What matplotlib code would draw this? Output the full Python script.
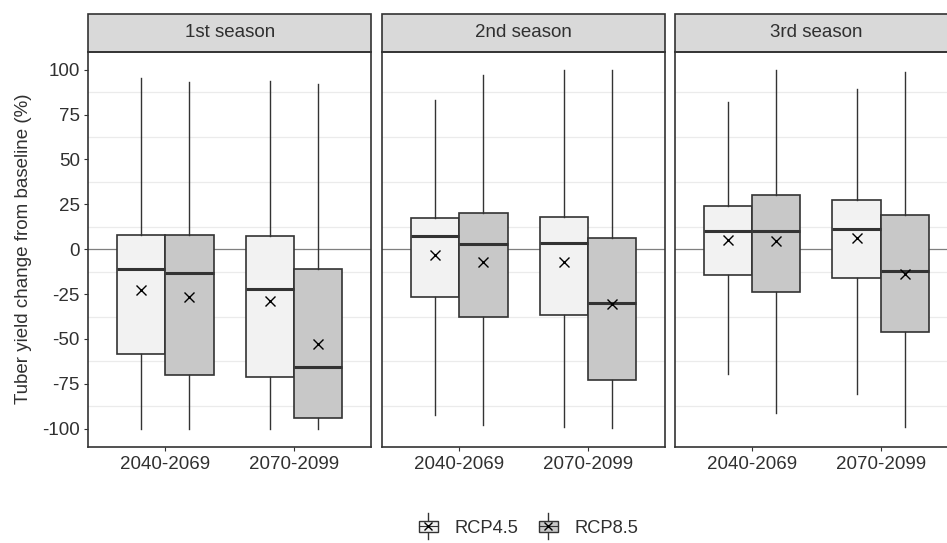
import matplotlib
matplotlib.use("Agg")
import matplotlib.pyplot as plt
from matplotlib.patches import Rectangle
from matplotlib.lines import Line2D
from matplotlib.legend_handler import HandlerBase

plt.rcParams["font.family"] = ["Liberation Sans", "DejaVu Sans"]
plt.rcParams["axes.unicode_minus"] = False

seasons = ["1st season", "2nd season", "3rd season"]
periods = ["2040-2069", "2070-2099"]
scenarios = ["RCP4.5", "RCP8.5"]

# Summary statistics, indexed [season][period][scenario]
whis_hi = [[[95.4, 93.0], [93.7, 91.9]],
           [[82.9, 97.0], [100.0, 100.0]],
           [[82.0, 100.0], [89.5, 98.7]]]
q3 = [[[8.0, 8.0], [7.4, -10.9]],
      [[17.5, 20.1], [18.2, 6.5]],
      [[24.0, 30.0], [27.3, 19.2]]]
median = [[[-11.2, -13.0], [-22.0, -65.6]],
          [[7.1, 2.8], [3.7, -29.7]],
          [[9.9, 9.9], [11.4, -12.3]]]
mean = [[[-23.0, -26.4], [-29.0, -53.0]],
        [[-3.0, -7.2], [-7.2, -30.5]],
        [[5.2, 4.8], [6.0, -13.7]]]
q1 = [[[-58.6, -70.3], [-71.2, -94.2]],
      [[-26.5, -37.5], [-36.6, -72.7]],
      [[-14.3, -23.6], [-16.0, -45.9]]]
whis_lo = [[[-100.0, -100.0], [-100.0, -100.0]],
           [[-92.4, -97.9], [-98.9, -99.8]],
           [[-69.5, -91.5], [-80.6, -98.9]]]

y_ticks = [-100, -75, -50, -25, 0, 25, 50, 75, 100]

fills = ["#f2f2f2", "#c8c8c8"]
edge = "#333333"
text_col = "#303030"

W, H = 947, 543
fig = plt.figure(figsize=(W / 100, H / 100), dpi=100)

panel_left = [88.3, 382.3, 675.0]
panel_w = 282.7
top_px, bot_px = 51.7, 446.7
strip_h = 38.0

box_w = 0.375
offsets = [-box_w / 2, box_w / 2]

for s, season in enumerate(seasons):
    ax = fig.add_axes([panel_left[s] / W, (H - bot_px) / H,
                       panel_w / W, (bot_px - top_px) / H])
    ax.set_xlim(0.4, 2.6)
    ax.set_ylim(-110, 110)

    # light minor grid between the breaks
    for g in [-87.5, -62.5, -37.5, -12.5, 12.5, 37.5, 62.5, 87.5]:
        ax.axhline(g, color="#ebebeb", lw=0.9, zorder=0)
    ax.axhline(0, color="#7f7f7f", lw=0.9, zorder=1)

    for p in range(len(periods)):
        for k in range(len(scenarios)):
            stats = [dict(med=median[s][p][k], q1=q1[s][p][k], q3=q3[s][p][k],
                          whislo=whis_lo[s][p][k], whishi=whis_hi[s][p][k],
                          mean=mean[s][p][k], fliers=[])]
            ax.bxp(stats, positions=[p + 1 + offsets[k]], widths=box_w,
                   patch_artist=True, showmeans=True, showcaps=False,
                   manage_ticks=False,
                   boxprops=dict(facecolor=fills[k], edgecolor=edge, lw=1.2),
                   whiskerprops=dict(color=edge, lw=1.0),
                   medianprops=dict(color=edge, lw=2.2, solid_capstyle="butt"),
                   meanprops=dict(marker="x", markeredgecolor="black",
                                  markersize=7, markeredgewidth=1.0))

    ax.set_xticks([1, 2])
    ax.set_xticklabels(periods)
    ax.set_yticks(y_ticks)
    ax.tick_params(axis="both", length=3, width=0.8, color=edge,
                   labelsize=13.5, labelcolor=text_col)
    ax.tick_params(axis="x", pad=4)
    ax.tick_params(axis="y", pad=3)
    if s > 0:
        ax.tick_params(axis="y", left=False, labelleft=False)
    else:
        ax.set_ylabel("Tuber yield change from baseline (%)", fontsize=13.5,
                      color=text_col)
        ax.yaxis.set_label_coords((32 - 88.3) / panel_w, 0.5)
    for sp in ax.spines.values():
        sp.set_color(edge)
        sp.set_linewidth(1.2)

    # facet strip
    sh = strip_h / (bot_px - top_px)
    strip = Rectangle((0, 1), 1, sh, transform=ax.transAxes, clip_on=False,
                      facecolor="#d9d9d9", edgecolor=edge, lw=1.2)
    ax.add_patch(strip)
    ax.text(0.5, 1 + sh / 2, season, transform=ax.transAxes, ha="center",
            va="center", fontsize=13.5, color=text_col)


class BoxKey(HandlerBase):
    def create_artists(self, legend, orig_handle, xdescent, ydescent,
                       width, height, fontsize, trans):
        x0, y0 = -xdescent, -ydescent
        cx, cy = x0 + width / 2, y0 + height / 2
        whisk = Line2D([cx, cx], [cy - 0.95 * height, cy + 0.95 * height],
                       color=edge, lw=1.0, transform=trans)
        box = Rectangle((x0, cy - 0.4 * height), width, 0.8 * height,
                        facecolor=orig_handle.get_facecolor(), edgecolor=edge,
                        lw=1.0, transform=trans)
        med = Line2D([x0, x0 + width], [cy, cy], color=edge, lw=0.8,
                     transform=trans)
        mark = Line2D([cx], [cy], marker="x", color="black", markersize=6,
                      markeredgewidth=1.0, transform=trans)
        return [whisk, box, med, mark]


handles = [Rectangle((0, 0), 1, 1, facecolor=c) for c in fills]
fig.legend(handles, scenarios, handler_map={Rectangle: BoxKey()},
           loc="center", bbox_to_anchor=(528.5 / W, 1 - 528 / H),
           ncol=2, frameon=False, fontsize=13.2, handlelength=1.05,
           handleheight=0.75, handletextpad=0.9, columnspacing=1.1,
           labelcolor=text_col)

fig.savefig("out.png", dpi=100, facecolor="white")
